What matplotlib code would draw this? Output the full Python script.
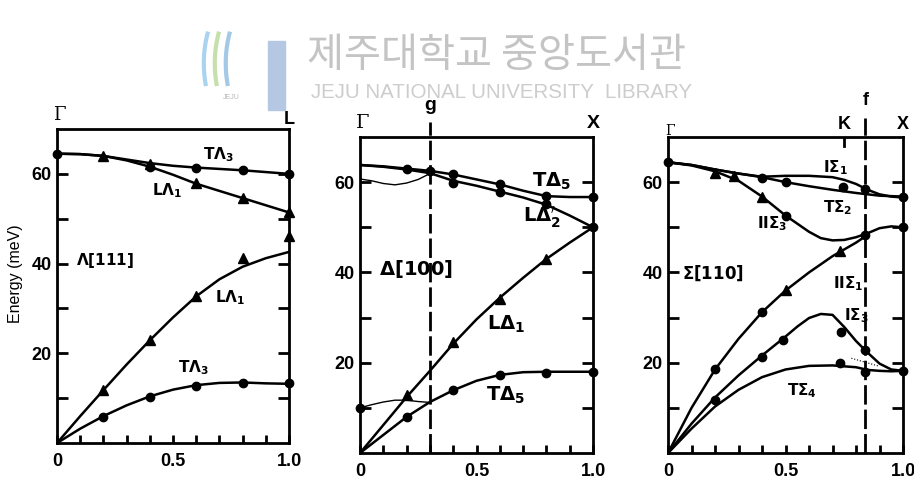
import numpy as np
import matplotlib
matplotlib.use("Agg")
import matplotlib.pyplot as plt
from matplotlib.patches import Arc, Rectangle
from matplotlib.transforms import blended_transform_factory

plt.rcParams['font.family'] = ['Liberation Sans', 'DejaVu Sans']
plt.rcParams['mathtext.fontset'] = 'dejavusans'

# ---- Lambda [111] ----
lam_q = [0, .1, .2, .3, .4, .5, .6, .7, .8, .9, 1.0]
lam_TA3_opt = [64.5, 64.4, 64.0, 63.2, 62.4, 61.8, 61.4, 61.1, 60.8, 60.4, 60.0]
lam_LA1_opt = [64.5, 64.4, 64.0, 63.0, 61.6, 59.8, 57.8, 56.2, 54.6, 53.0, 51.4]
lam_LA1_ac = [0, 6.0, 11.8, 17.5, 22.9, 28.0, 32.7, 36.5, 39.3, 41.2, 42.6]
lam_TA3_ac = [0, 3.2, 6.0, 8.4, 10.4, 11.9, 12.9, 13.4, 13.5, 13.3, 13.2]
lam_circ_q = [0, 0.4, 0.6, 0.8, 1.0, 0.2, 0.4, 0.6, 0.8, 1.0]
lam_circ_E = [64.5, 61.5, 61.4, 60.8, 60.0, 5.8, 10.3, 12.8, 13.4, 13.3]
lam_tri_q = [0.2, 0.4, 0.6, 0.8, 1.0, 1.0, 0.8, 0.2, 0.4, 0.6]
lam_tri_E = [64.0, 62.3, 58.0, 54.6, 51.4, 46.2, 41.3, 11.8, 22.9, 32.7]

# ---- Delta [100] ----
del_q = [0, .1, .2, .3, .4, .5, .6, .7, .8, .9, 1.0]
del_TA5_opt = [63.8, 63.5, 63.0, 62.5, 61.7, 60.6, 59.5, 58.1, 56.9, 56.7, 56.7]
del_LA2_opt = [63.8, 63.4, 62.8, 62.0, 60.3, 59.2, 57.9, 56.6, 55.0, 52.6, 50.0]
del_LA1 = [0, 6.2, 12.4, 18.2, 24.2, 29.6, 34.4, 38.8, 43.0, 46.6, 50.0]
del_TA5 = [0, 4.0, 8.0, 11.3, 13.9, 16.0, 17.3, 17.9, 18.0, 18.0, 18.0]
del_thin_q = [0, .05, .1, .15, .2, .25, .3]
del_thin_hi = [60.7, 60.3, 59.7, 59.4, 59.8, 60.6, 61.9]
del_thin_lo = [10.0, 10.7, 11.3, 11.7, 11.7, 11.4, 11.2]
del_circ_q = [0.2, 0.3, 0.4, 0.4, 0.6, 0.6, 0.8, 0.8, 1.0, 1.0,
              0, 0.2, 0.4, 0.6, 0.8, 1.0]
del_circ_E = [62.9, 62.5, 61.7, 59.7, 59.6, 57.8, 57.0, 55.2, 56.7, 50.0,
              10.0, 8.0, 13.9, 17.2, 17.8, 18.0]
del_tri_q = [0.2, 0.4, 0.6, 0.8]
del_tri_E = [12.8, 24.6, 34.2, 43.0]

# ---- Sigma [110] ----
sig_q1 = [0, .1, .2, .3, .4, .5, .6, .7, .75, .8, .85, .9, .95, 1.0]
sig_I1 = [64.4, 63.8, 62.8, 61.9, 61.2, 61.4, 61.4, 61.1, 60.5, 59.6, 58.3, 57.3, 56.8, 56.6]
sig_q2 = [0, .1, .2, .3, .4, .5, .6, .7, .8, .9, 1.0]
sig_T2 = [64.4, 63.8, 62.8, 61.9, 61.1, 60.0, 59.1, 58.3, 57.6, 57.0, 56.8]
sig_q3 = [0, .1, .2, .3, .4, .5, .6, .65, .7, .75, .8, .85, .9, .95, 1.0]
sig_II3 = [64.4, 63.7, 62.4, 60.3, 56.8, 52.6, 49.0, 47.6, 47.1, 47.2, 47.8, 48.7, 49.8, 50.2, 50.0]
sig_q4 = [0, .1, .2, .3, .4, .5, .6, .7, .8, .84]
sig_II1 = [0, 10.0, 18.5, 25.3, 31.2, 36.0, 40.0, 43.6, 46.6, 48.0]
sig_q5 = [0, .1, .2, .3, .4, .5, .55, .6, .65, .7, .75, .8, .85, .9, .95, 1.0]
sig_I3 = [0, 6.5, 12.3, 17.2, 21.6, 25.8, 28.0, 29.9, 30.8, 30.6, 27.9, 24.8, 22.2, 19.8, 18.5, 18.2]
sig_q6 = [0, .1, .2, .3, .4, .5, .6, .7, .8, .85, .9, .95, 1.0]
sig_T4 = [0, 5.4, 10.3, 14.0, 16.8, 18.5, 19.3, 19.4, 19.0, 18.4, 18.2, 18.1, 18.2]
sig_dot_q = [0.78, 0.9]
sig_dot_E = [21.0, 19.2]
sig_circ_q = [0, 0.4, 0.5, 0.745, 0.84, 1.0, 1.0, 0.84, 0.5,
              0.2, 0.4, 0.2, 0.4, 0.49, 0.735, 0.84, 0.73, 0.84, 1.0]
sig_circ_E = [64.4, 61.0, 60.0, 59.0, 58.5, 56.8, 50.0, 48.2, 52.6,
              18.5, 31.2, 11.8, 21.3, 25.1, 26.8, 22.8, 19.9, 18.0, 18.2]
sig_tri_q = [0.2, 0.28, 0.4, 0.73, 0.5]
sig_tri_E = [62.0, 61.4, 56.8, 44.8, 36.0]

xtick_vals = np.round(np.arange(0, 1.01, 0.1), 1)
xtick_text = ['0', '', '', '', '', '0.5', '', '', '', '', '1.0']
ytick_vals = [10, 20, 30, 40, 50, 60]
ytick_text = ['', '20', '', '40', '', '60']

fig = plt.figure(figsize=(9.14, 4.87), dpi=100)

# library watermark
fig.text(0.543, 0.887, "제주대학교 중앙도서관", family=['Noto Sans CJK KR'],
         fontsize=29, color='#c4c4c4', ha='center', va='center')
fig.text(0.549, 0.810, "JEJU NATIONAL UNIVERSITY  LIBRARY", fontsize=14.8,
         color='#cdcdcd', ha='center', va='center')
fig.patches.append(Rectangle((0.293, 0.775), 0.019, 0.14, transform=fig.transFigure,
                             color='#b4c8e4', zorder=0))
for cx, col in [(0.258, '#a9d3ee'), (0.27, '#c6e0ac'), (0.282, '#a3c9e6')]:
    fig.patches.append(Arc((cx, 0.87), 0.07, 0.26, theta1=115, theta2=235,
                           transform=fig.transFigure, color=col, lw=3))
fig.text(0.253, 0.8, "JEJU", fontsize=5, color='#b8b8b8', ha='center', va='center')


def style_axes(ax):
    ax.set_xlim(0, 1)
    ax.set_ylim(0, 70)
    ax.set_xticks(xtick_vals)
    ax.set_xticklabels(xtick_text)
    ax.set_yticks(ytick_vals)
    ax.set_yticklabels(ytick_text)
    ax.tick_params(axis='y', direction='in', length=8, width=2, right=True,
                   labelsize=13, pad=4)
    ax.tick_params(axis='x', direction='in', length=6, width=2,
                   labelsize=13, pad=7)
    for lab in ax.get_xticklabels() + ax.get_yticklabels():
        lab.set_fontweight('bold')
    for sp in ax.spines.values():
        sp.set_linewidth(2)


def draw(ax, q, E, lw=1.8, **kw):
    ax.plot(q, E, color='black', lw=lw, solid_capstyle='round', **kw)


def marks(ax, cq, cE, tq, tE):
    ax.plot(cq, cE, 'o', color='black', ms=6, clip_on=False, zorder=4)
    ax.plot(tq, tE, '^', color='black', ms=6.5, clip_on=False, zorder=4)


def label(ax, x, y, s, size=11):
    ax.text(x, y, s, fontsize=size, ha='left', va='center', color='black')


def top_label(ax, x, y, s, size=13, family=None):
    tr = blended_transform_factory(ax.transData, ax.transAxes)
    kw = dict(fontsize=size, ha='center', va='center', transform=tr,
              fontweight='bold', clip_on=False)
    if family:
        kw['family'] = family
        kw['fontweight'] = 'normal'
    ax.text(x, y, s, **kw)


# ---- panel 1 ----
ax1 = fig.add_axes([0.0624, 0.0903, 0.2538, 0.6448])
style_axes(ax1)
draw(ax1, lam_q, lam_TA3_opt)
draw(ax1, lam_q, lam_LA1_opt)
draw(ax1, lam_q, lam_LA1_ac)
draw(ax1, lam_q, lam_TA3_ac)
marks(ax1, lam_circ_q, lam_circ_E, lam_tri_q, lam_tri_E)
label(ax1, 0.63, 64.2, r"$\mathbf{T\Lambda_3}$")
label(ax1, 0.41, 56.2, r"$\mathbf{L\Lambda_1}$")
label(ax1, 0.08, 40.7, r"$\mathbf{\Lambda[111]}$")
label(ax1, 0.68, 32.3, r"$\mathbf{L\Lambda_1}$")
label(ax1, 0.52, 16.9, r"$\mathbf{T\Lambda_3}$")
top_label(ax1, 0.01, 1.045, "Γ", size=13, family='DejaVu Serif')
top_label(ax1, 1.0, 1.03, "L")
fig.text(0.0175, 0.439, "Energy (meV)", rotation=90, fontsize=11.5,
         ha='center', va='center')

# ---- panel 2 ----
ax2 = fig.add_axes([0.3939, 0.0698, 0.2549, 0.6489])
style_axes(ax2)
draw(ax2, del_q, del_TA5_opt)
draw(ax2, del_q, del_LA2_opt)
draw(ax2, del_q, del_LA1)
draw(ax2, del_q, del_TA5)
draw(ax2, del_thin_q, del_thin_hi, lw=1.0)
draw(ax2, del_thin_q, del_thin_lo, lw=1.0)
marks(ax2, del_circ_q, del_circ_E, del_tri_q, del_tri_E)
ax2.axvline(0.3, ymin=0, ymax=1.047, color='black', lw=2, dashes=(7, 1.8),
            clip_on=False)
label(ax2, 0.74, 60.2, r"$\mathbf{T\Delta_5}$", size=14)
label(ax2, 0.70, 52.3, r"$\mathbf{L\Delta_2^{\prime}}$", size=14)
label(ax2, 0.08, 40.8, r"$\mathbf{\Delta[100]}$", size=14)
label(ax2, 0.545, 28.5, r"$\mathbf{L\Delta_1}$", size=14)
label(ax2, 0.54, 12.8, r"$\mathbf{T\Delta_5}$", size=14)
top_label(ax2, 0.01, 1.044, "Γ", size=14, family='DejaVu Serif')
top_label(ax2, 1.0, 1.044, "X", size=14)
top_label(ax2, 0.3, 1.10, "g", size=14)

# ---- panel 3 ----
ax3 = fig.add_axes([0.7309, 0.0698, 0.2571, 0.6489])
style_axes(ax3)
draw(ax3, sig_q1, sig_I1)
draw(ax3, sig_q2, sig_T2)
draw(ax3, sig_q3, sig_II3)
draw(ax3, sig_q4, sig_II1)
draw(ax3, sig_q5, sig_I3)
draw(ax3, sig_q6, sig_T4)
ax3.plot(sig_dot_q, sig_dot_E, color='black', lw=0.8, ls=':')
marks(ax3, sig_circ_q, sig_circ_E, sig_tri_q, sig_tri_E)
ax3.axvline(0.84, ymin=0, ymax=1.06, color='black', lw=2, dashes=(7, 1.8),
            clip_on=False)
ax3.axvline(0.75, ymin=0.97, ymax=1.0, color='black', lw=2)
label(ax3, 0.66, 63.3, r"$\mathbf{I\Sigma_1}$")
label(ax3, 0.66, 54.3, r"$\mathbf{T\Sigma_2}$")
label(ax3, 0.38, 50.8, r"$\mathbf{II\Sigma_3}$")
label(ax3, 0.06, 39.8, r"$\mathbf{\Sigma[110]}$", size=12)
label(ax3, 0.70, 37.5, r"$\mathbf{II\Sigma_1}$")
label(ax3, 0.75, 30.4, r"$\mathbf{I\Sigma_3}$")
label(ax3, 0.505, 13.9, r"$\mathbf{T\Sigma_4}$")
top_label(ax3, 0.01, 1.02, "Γ", size=10, family='DejaVu Serif')
top_label(ax3, 0.75, 1.038, "K")
top_label(ax3, 1.0, 1.038, "X")
top_label(ax3, 0.84, 1.117, "f")

fig.savefig("out.png", dpi=100)
